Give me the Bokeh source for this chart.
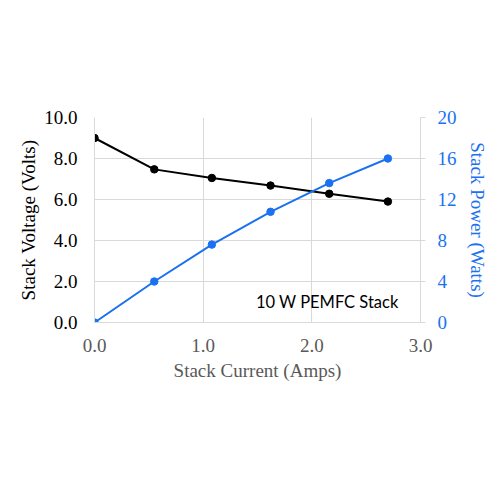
from bokeh.plotting import figure
from bokeh.models import (Range1d, LinearAxis, FixedTicker,
                          PrintfTickFormatter, Label)
from bokeh.embed import file_html
from bokeh.resources import INLINE

# Data
current = [0.0, 0.55, 1.08, 1.62, 2.16, 2.70]
voltage = [9.0, 7.47, 7.05, 6.68, 6.28, 5.90]
power = [0.0, 4.0, 7.6, 10.8, 13.6, 16.0]

x_ticks = [0, 1, 2, 3]
v_ticks = [0, 2, 4, 6, 8, 10]
p_ticks = [0, 4, 8, 12, 16, 20]

annotation = "10 W PEMFC Stack"
x_title = "Stack Current (Amps)"
y_title = "Stack Voltage (Volts)"
y2_title = "Stack Power (Watts)"

BLUE = "#1a72f0"
GRID = "#d9d9d9"
SERIF = "Liberation Serif"
FS = "19px"

p = figure(frame_width=326, frame_height=205, output_backend="svg", toolbar_location=None,
           x_range=Range1d(0, 3), y_range=Range1d(0, 10),
           min_border_left=94, min_border_right=64, min_border_top=117, min_border_bottom=162)
p.outline_line_color = None
p.background_fill_color = "white"
p.border_fill_color = "white"

p.extra_y_ranges = {"power": Range1d(0, 20)}

# grids
p.xgrid.ticker = FixedTicker(ticks=x_ticks)
p.ygrid.ticker = FixedTicker(ticks=v_ticks)
p.xgrid.grid_line_color = GRID
p.ygrid.grid_line_color = GRID
p.grid.grid_line_width = 1

# bottom axis
xa = p.xaxis[0]
xa.ticker = FixedTicker(ticks=x_ticks)
xa.formatter = PrintfTickFormatter(format="%.1f")
xa.axis_label = x_title
xa.axis_line_color = GRID
xa.major_tick_line_color = None
xa.minor_tick_line_color = None
xa.major_label_standoff = 10
xa.axis_label_standoff = 5
xa.major_label_text_font = SERIF
xa.major_label_text_font_size = FS
xa.major_label_text_color = "#595959"
xa.axis_label_text_font = SERIF
xa.axis_label_text_font_size = FS
xa.axis_label_text_font_style = "normal"
xa.axis_label_text_color = "#595959"

# left axis
ya = p.yaxis[0]
ya.ticker = FixedTicker(ticks=v_ticks)
ya.formatter = PrintfTickFormatter(format="%.1f")
ya.axis_label = y_title
ya.axis_line_color = GRID
ya.major_tick_line_color = None
ya.minor_tick_line_color = None
ya.major_label_standoff = 11
ya.axis_label_standoff = 2
ya.major_label_text_font = SERIF
ya.major_label_text_font_size = FS
ya.major_label_text_color = "black"
ya.axis_label_text_font = SERIF
ya.axis_label_text_font_size = FS
ya.axis_label_text_font_style = "normal"
ya.axis_label_text_color = "black"

# right axis
ra = LinearAxis(y_range_name="power", axis_label=y2_title)
ra.ticker = FixedTicker(ticks=p_ticks)
ra.formatter = PrintfTickFormatter(format="%d")
ra.axis_line_color = GRID
ra.major_tick_line_color = GRID
ra.major_tick_out = 5
ra.major_tick_in = 0
ra.minor_tick_line_color = None
ra.major_label_standoff = 12
ra.axis_label_standoff = 7
ra.major_label_text_font = SERIF
ra.major_label_text_font_size = FS
ra.major_label_text_color = BLUE
ra.axis_label_text_font = SERIF
ra.axis_label_text_font_size = FS
ra.axis_label_text_font_style = "normal"
ra.axis_label_text_color = BLUE
p.add_layout(ra, "right")

# series
p.line(current, voltage, line_color="black", line_width=2)
p.scatter(current, voltage, size=7.5, fill_color="black", line_color="black")
p.line(current, power, line_color=BLUE, line_width=2, y_range_name="power")
p.scatter(current, power, size=7.5, fill_color=BLUE, line_color=BLUE, y_range_name="power")

lab = Label(x=2.80, y=0.98, text=annotation, text_align="right", text_baseline="middle",
            text_font="Lato", text_font_size="16.5px", text_color="black")
p.add_layout(lab)

open("out.html", "w").write(file_html(p, INLINE))
